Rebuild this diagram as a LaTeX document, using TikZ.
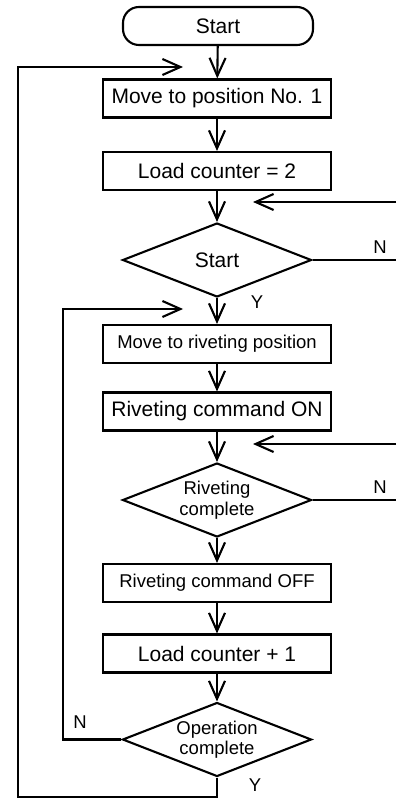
\documentclass[tikz,border=0pt]{standalone}
\usepackage{fontspec}
\setmainfont{Liberation Sans}
\usetikzlibrary{positioning}
\usetikzlibrary{shapes.geometric,arrows.meta}
\tikzset{
  termbox/.style={draw,rounded corners=16pt,minimum width=190pt,minimum height=38pt,inner sep=0pt},
  procbox/.style={draw,minimum width=228pt,minimum height=38pt,inner sep=0pt},
  decide/.style={draw,diamond,aspect=2.55,minimum width=189pt,minimum height=74pt,inner sep=0pt,align=center},
  bigtxt/.style={font=\fontsize{21}{24}\selectfont},
  smalltxt/.style={font=\fontsize{18.5}{20.5}\selectfont},
}

\begin{document}
\begin{tikzpicture}[>={Straight Barb[length=18pt,width=16pt]},x=1pt,y=-1pt,line width=2.1pt]
  \useasboundingbox (0,0) rectangle (396,799);
  % main column of steps
  \node[termbox,bigtxt] (start) at (218,26) {Start};
  \node[procbox,bigtxt] (move1) at (217,98.5) {Move to position No. 1};
  \node[procbox,bigtxt] (load) at (217,171) {Load counter = 2};
  \node[decide,bigtxt] (chkstart) at (217,260) {Start};
  \node[procbox,smalltxt] (moverv) at (217,344) {Move to riveting position};
  \node[procbox,bigtxt] (rvon) at (217,411.5) {Riveting command ON};
  \node[decide,smalltxt] (chkrv) at (217,500) {Riveting\\complete};
  \node[procbox,smalltxt] (rvoff) at (217,583) {Riveting command OFF};
  \node[procbox,bigtxt] (incr) at (217,653.5) {Load counter + 1};
  \node[decide,smalltxt] (chkop) at (217,739.5) {Operation\\complete};
  % straight flow
  \draw[->] (start) -- (move1);
  \draw[->] (move1) -- (load);
  \draw[->] (load) -- (chkstart);
  \draw[->] (chkstart) -- (moverv);
  \draw[->] (moverv) -- (rvon);
  \draw[->] (rvon) -- (chkrv);
  \draw[->] (chkrv) -- (rvoff);
  \draw[->] (rvoff) -- (incr);
  \draw[->] (incr) -- (chkop);
  % N branches leave to the right edge and come back
  \coordinate (nout1) at (396,260); \coordinate (nin1) at (396,202); \coordinate (ntip1) at (253,202);
  \coordinate (nout2) at (396,500); \coordinate (nin2) at (396,444); \coordinate (ntip2) at (253,444);
  \draw (chkstart.east) -- (nout1);
  \draw[->] (nin1) -- (ntip1);
  \draw (chkrv.east) -- (nout2);
  \draw[->] (nin2) -- (ntip2);
  % inner loop (operation not complete)
  \coordinate (ltip) at (183,309);
  \draw[->] (chkop.west) -- (63,739.5) -- (63,309) -- (ltip);
  % outer loop back to position No. 1
  \coordinate (otip) at (183,67);
  \draw[->] (chkop.south) -- (217,797) -- (18,797) -- (18,67) -- (otip);
  % branch labels
  \node[smalltxt] (n1) at (380,247) {N};
  \node[smalltxt] (y1) at (257,302) {Y};
  \node[smalltxt] (n2) at (380,487) {N};
  \node[smalltxt] (n3) at (80,722) {N};
  \node[smalltxt] (y3) at (255,785) {Y};
\end{tikzpicture}
\end{document}
